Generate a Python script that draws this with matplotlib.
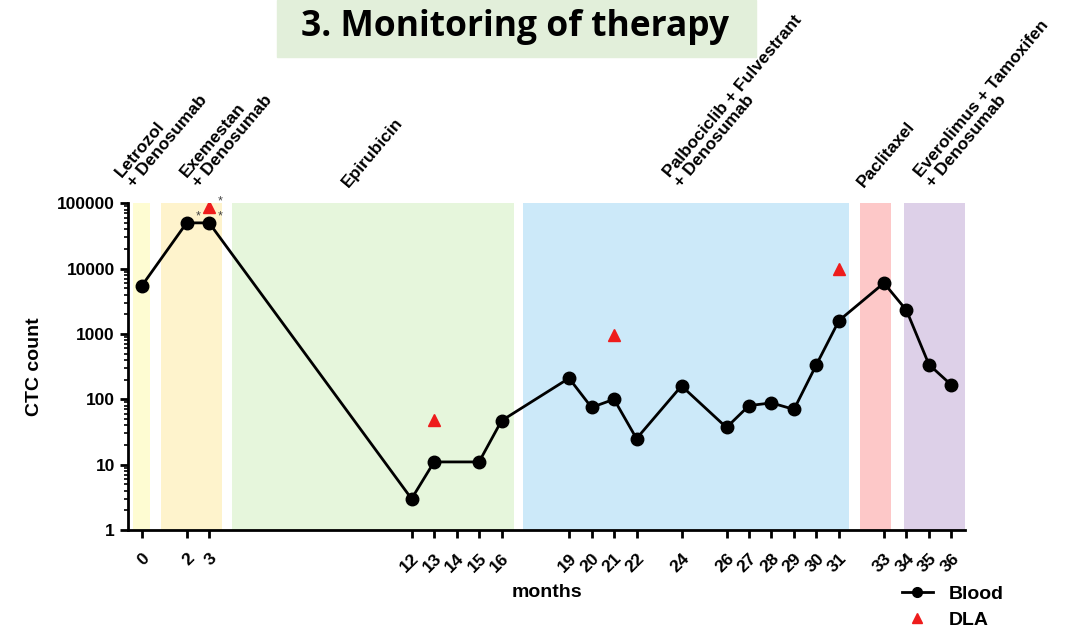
import matplotlib
matplotlib.use("Agg")
import matplotlib.pyplot as plt
from matplotlib.patches import Rectangle
from matplotlib.lines import Line2D

# blood CTC counts per month
months = [0, 2, 3, 12, 13, 15, 16, 19, 20, 21, 22, 24, 26, 27, 28, 29, 30, 31, 33, 34, 35, 36]
blood = [5400, 50000, 50000, 3, 11, 11, 47, 210, 75, 100, 25, 160, 37, 80, 88, 70, 340, 1600, 6000, 2300, 340, 165]

# diagnostic leukapheresis
dla_months = [3, 13, 21, 31]
dla = [87000, 48, 960, 10000]

tick_months = [0, 2, 3, 12, 13, 14, 15, 16, 19, 20, 21, 22, 24, 26, 27, 28, 29, 30, 31, 33, 34, 35, 36]

# therapy phases
therapies = ["Letrozol\n+ Denosumab", "Exemestan\n+ Denosumab", "Epirubicin",
             "Palbociclib + Fulvestrant\n+ Denosumab", "Paclitaxel",
             "Everolimus + Tamoxifen\n+ Denosumab"]
phase_start = [-0.4, 0.85, 4.0, 16.95, 31.95, 33.87]
phase_end = [0.36, 3.55, 16.55, 31.45, 33.3, 36.8]
label_x = [-0.25, 2.65, 9.3, 24.1, 32.2, 35.3]
phase_colors = ["#fefcd2", "#fef3cc", "#e6f6dc", "#cce9f9", "#fdc8c8", "#ddd0e8"]

plt.rcParams["font.family"] = ["Liberation Sans", "DejaVu Sans"]

fig = plt.figure(figsize=(10.68, 6.37), dpi=100)
ax = fig.add_axes([0.12, 0.168, 0.7835, 0.513])

for s, e, c in zip(phase_start, phase_end, phase_colors):
    ax.axvspan(s, e, color=c, lw=0, zorder=0)

ax.plot(months, blood, color="black", lw=2, marker="o", ms=9, zorder=3)
ax.plot(dla_months, dla, ls="none", marker="^", color="#ee1c1c", ms=8, zorder=3)

# asterisks next to the month 2/3 values
for x, y in [(2, blood[1]), (3, blood[2]), (3, dla[0])]:
    ax.annotate("*", (x, y), xytext=(8, 0), textcoords="offset points",
                fontsize=9, color="#444444", ha="center", va="bottom")

ax.set_yscale("log")
ax.set_ylim(1, 100000)
ax.set_xlim(-0.6, 36.6)
ax.set_yticks([1, 10, 100, 1000, 10000, 100000])
ax.set_yticklabels(["1", "10", "100", "1000", "10000", "100000"])
ax.set_xticks(tick_months)
ax.set_xticklabels([str(m) for m in tick_months], rotation=45, ha="right",
                   va="top", rotation_mode="anchor")

for lab in ax.get_xticklabels():
    lab.set_fontweight("bold")
    lab.set_fontsize(12.5)
for lab in ax.get_yticklabels():
    lab.set_fontweight("bold")
    lab.set_fontsize(12.5)

ax.tick_params(axis="both", which="major", length=6, width=2, direction="out")
ax.tick_params(axis="y", which="minor", length=3, width=1.2)
ax.tick_params(axis="x", pad=9)
ax.spines["top"].set_visible(False)
ax.spines["right"].set_visible(False)
ax.spines["left"].set_linewidth(2)
ax.spines["bottom"].set_linewidth(2)

ax.set_ylabel("CTC count", fontsize=14, fontweight="bold", labelpad=10)
ax.set_xlabel("months", fontsize=14, fontweight="bold", labelpad=6)

# therapy names above the phases
for name, x in zip(therapies, label_x):
    ax.text(x, 1.04, name, transform=ax.get_xaxis_transform(), rotation=50,
            rotation_mode="anchor", ha="left", va="bottom", fontsize=12.5,
            fontweight="bold", linespacing=1.05)

# title box
fig.patches.append(Rectangle((0.259, 0.91), 0.449, 0.09, transform=fig.transFigure,
                             color="#e2efda", zorder=0))
fig.text(0.482, 0.957, "3. Monitoring of therapy", ha="center", va="center",
         fontsize=25.5, fontweight="bold", family=["Open Sans", "DejaVu Sans"])

handles = [Line2D([], [], color="black", lw=2, marker="o", ms=7),
           Line2D([], [], ls="none", marker="^", color="#ee1c1c", ms=7)]
fig.legend(handles, ["Blood", "DLA"], loc="lower left", bbox_to_anchor=(0.828, -0.015),
           frameon=False, prop={"weight": "bold", "size": 14}, handlelength=1.6,
           labelspacing=0.45, handletextpad=0.8)

fig.savefig("out.png", dpi=100)
